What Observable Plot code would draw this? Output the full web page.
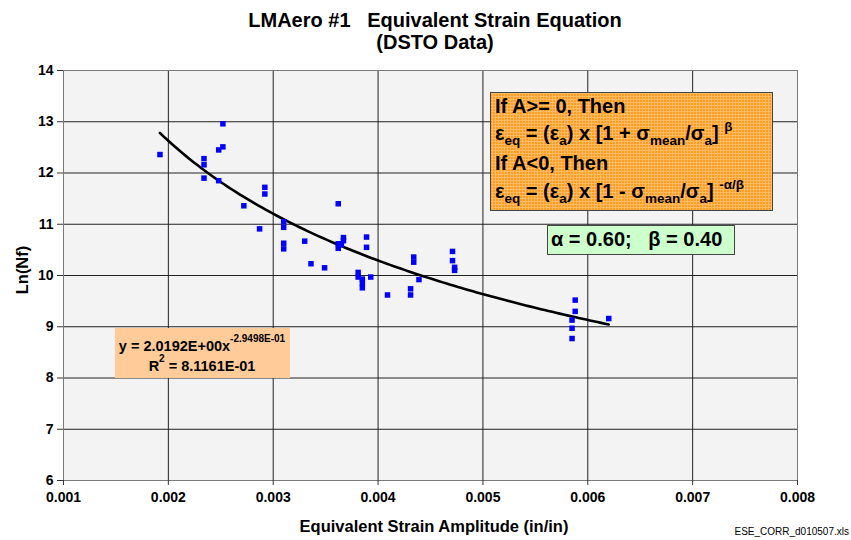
<!DOCTYPE html>
<html><head><meta charset="utf-8">
<script src="https://cdn.jsdelivr.net/npm/d3@7"></script>
<script src="https://cdn.jsdelivr.net/npm/@observablehq/plot@0.6"></script>
<style>
body{margin:0;background:#fff}
#chart{width:851px;height:540px;position:relative}
</style>
</head><body><div id="chart"></div>
<script>
// ---- data ----
const strain = [0.00192,0.00234,0.00234,0.00234,0.00248,0.00252,0.00252,0.00248,0.00272,0.00292,
  0.00292,0.00287,0.00310,0.00310,0.00310,0.00310,0.00330,0.00336,0.00349,0.00362,
  0.00367,0.00367,0.00362,0.00362,0.00365,0.00389,0.00389,0.00381,0.00381,0.00385,
  0.00385,0.00385,0.00393,0.00409,0.00431,0.00431,0.00434,0.00434,0.00439,0.00471,
  0.00471,0.00473,0.00473,0.00588,0.00588,0.00585,0.00585,0.00585,0.00620];
const lnNf = [12.36,12.28,12.16,11.90,12.45,12.96,12.51,11.85,11.36,11.72,
  11.59,10.91,11.05,10.94,10.63,10.52,10.67,10.23,10.15,11.40,
  10.74,10.68,10.62,10.53,10.60,10.75,10.55,10.06,9.97,9.93,
  9.85,9.76,9.97,9.62,9.74,9.62,10.36,10.26,9.92,10.47,
  10.29,10.16,10.10,9.52,9.30,9.13,8.97,8.77,9.16];
const xTicks = [0.001,0.002,0.003,0.004,0.005,0.006,0.007,0.008];
const yTicks = [6,7,8,9,10,11,12,13,14];
// power trendline shown on the chart: y = 2.0192E+00 x^-2.9498E-01
const fitCoef = 2.0192, fitExp = -0.29498;
const fitStart = 0.00192, fitEnd = 0.0062;

const points = strain.map((s,i)=>({x:s, y:lnNf[i]}));
const nS = 120;
const curve = d3.range(nS).map(i=>{const x = fitStart + i*(fitEnd-fitStart)/(nS-1); return {x, y: fitCoef*Math.pow(x, fitExp)};});

const FONT = "'Liberation Sans', Arial, Helvetica, sans-serif";

const svgNode = Plot.plot({
  width: 851, height: 540,
  marginTop: 70, marginBottom: 60, marginLeft: 63, marginRight: 54,
  style: {fontFamily: FONT, fontWeight: "bold", fontSize: "14px", color: "#000", background: "#fff"},
  x: {domain: [0.001, 0.008]},
  y: {domain: [6, 14]},
  marks: [
    Plot.frame({fill: "#f3f3f3", stroke: "none"}),
    Plot.gridX(xTicks, {stroke: "#222", strokeOpacity: 1}),
    Plot.gridY(yTicks, {stroke: "#222", strokeOpacity: 1}),
    Plot.frame({stroke: "#7a7a7a", fill: "none"}),
    Plot.axisX(xTicks, {tickFormat: d3.format(".3f"), tickSize: 5, tickPadding: 7, label: null, stroke: "#333"}),
    Plot.axisY(yTicks, {tickFormat: d => String(d), tickSize: 6, tickPadding: 4, label: null, stroke: "#333"}),
    Plot.line(curve, {x: "x", y: "y", stroke: "#000", strokeWidth: 2.6}),
    Plot.dot(points, {x: "x", y: "y", symbol: "square", r: 3.1, fill: "#0000ff", stroke: "none"})
  ]
});
document.getElementById("chart").appendChild(svgNode);

const svg = d3.select(svgNode);
const g = svg.append("g").attr("font-family", FONT).attr("font-weight", "bold").attr("fill", "#000").attr("text-anchor", "start");

function rich(parent, x, y, size, subSize, segs, anchor) {
  const t = parent.append("text").attr("x", x).attr("y", y).attr("font-size", size).attr("text-anchor", anchor || "start");
  let off = 0;
  segs.forEach(([s, k]) => {
    const target = k === "sub" ? 5 : k === "sup" ? -9 : 0;
    const ts = t.append("tspan").text(s).attr("dy", target - off);
    if (k) ts.attr("font-size", subSize);
    off = target;
  });
  return t;
}

// title
g.append("text").attr("x", 435).attr("y", 27).attr("text-anchor", "middle").attr("font-size", 20)
  .style("white-space", "pre").text("LMAero #1   Equivalent Strain Equation");
g.append("text").attr("x", 435).attr("y", 49).attr("text-anchor", "middle").attr("font-size", 20).text("(DSTO Data)");

// axis titles
g.append("text").attr("x", 434).attr("y", 532).attr("text-anchor", "middle").attr("font-size", 16.5)
  .text("Equivalent Strain Amplitude (in/in)");
g.append("text").attr("transform", "translate(28,270) rotate(-90)").attr("text-anchor", "middle").attr("font-size", 16.5)
  .text("Ln(Nf)");
g.append("text").attr("x", 849).attr("y", 535).attr("text-anchor", "end").attr("font-size", 10)
  .attr("font-weight", "normal").text("ESE_CORR_d010507.xls");

// orange condition box with fine texture
const defs = svg.append("defs");
const pat = defs.append("pattern").attr("id", "orgrid").attr("width", 3).attr("height", 3).attr("patternUnits", "userSpaceOnUse");
pat.append("rect").attr("width", 3).attr("height", 3).attr("fill", "#ff9c22");
pat.append("path").attr("d", "M0,0.5H3M0.5,0V3").attr("stroke", "#ffc070").attr("stroke-width", 0.8);
g.append("rect").attr("x", 490.5).attr("y", 92.5).attr("width", 282).attr("height", 118)
  .attr("fill", "url(#orgrid)").attr("stroke", "#444").attr("stroke-width", 1);
const ob = g.append("g").style("white-space", "pre");
rich(ob, 495, 113, 20, 13.5, [["If A>= 0, Then"]]);
rich(ob, 495, 140, 20, 13.5, [["ε"], ["eq", "sub"], [" = (ε"], ["a", "sub"], [") x [1 + σ"], ["mean", "sub"], ["/σ"], ["a", "sub"], ["] "], ["β", "sup"]]);
rich(ob, 495, 170, 20, 13.5, [["If A<0, Then"]]);
rich(ob, 495, 198, 20, 13.5, [["ε"], ["eq", "sub"], [" = (ε"], ["a", "sub"], [") x [1 - σ"], ["mean", "sub"], ["/σ"], ["a", "sub"], ["] "], ["-α/β", "sup"]]);

// green parameter box
g.append("rect").attr("x", 547.5).attr("y", 225.5).attr("width", 187).attr("height", 29)
  .attr("fill", "#ccffcc").attr("stroke", "#444").attr("stroke-width", 1);
g.append("text").attr("x", 551).attr("y", 246).attr("text-anchor", "start").attr("font-size", 20).style("white-space", "pre")
  .text("α = 0.60;   β = 0.40");

// trendline equation box
g.append("rect").attr("x", 115).attr("y", 328).attr("width", 175).attr("height", 50).attr("fill", "#ffcc99");
rich(g, 202, 351, 14.5, 10, [["y = 2.0192E+00x"], ["-2.9498E-01", "sup"]], "middle");
rich(g, 202, 371, 14.5, 10, [["R"], ["2", "sup"], [" = 8.1161E-01"]], "middle");
</script>
</body></html>
